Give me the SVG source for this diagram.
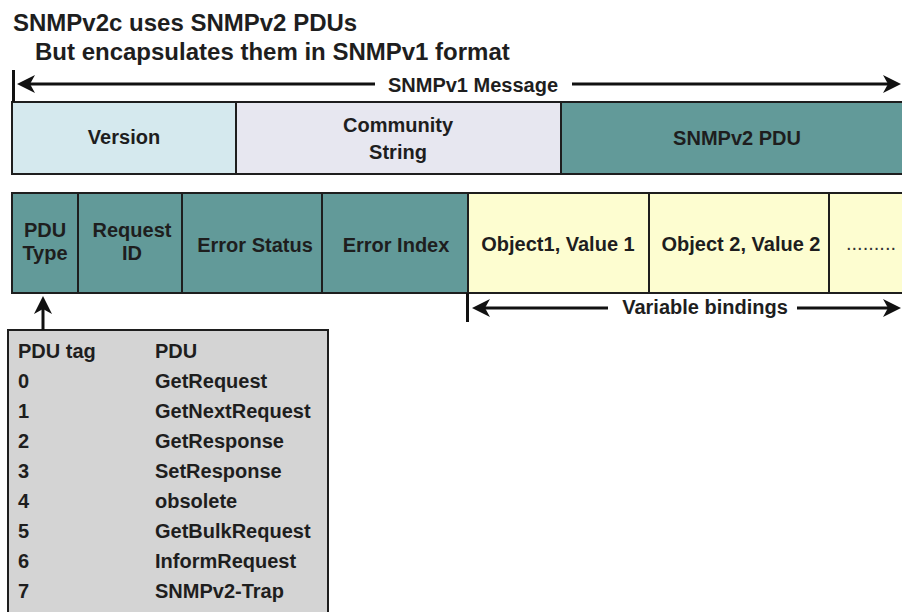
<svg xmlns="http://www.w3.org/2000/svg" width="902" height="612" viewBox="0 0 902 612">
  <style>
    text { font-family: "Liberation Sans", Arial, Helvetica, sans-serif; font-weight: bold; fill: #1e1e1e; }
    .t24 { font-size: 24px; }
    .t20 { font-size: 20px; }
    .c { text-anchor: middle; }
    .cell { stroke: #1e1e1e; stroke-width: 2; }
    .teal { fill: #629a99; }
    .yel { fill: #fdfdd0; }
    .conn { stroke: #111; stroke-width: 3; fill: none; }
    .bar { stroke: #111; stroke-width: 3; }
  </style>
  <defs>
    <marker id="ah" viewBox="-20 -10 22 20" refX="-12" refY="0" markerWidth="22" markerHeight="20" markerUnits="userSpaceOnUse" orient="auto-start-reverse">
      <path d="M0,0 L-18,-9 L-13,0 L-18,9 Z" fill="#111"/>
    </marker>
  </defs>
  <rect width="902" height="612" fill="#ffffff"/>

  <g id="title">
    <text class="t24" x="13" y="31">SNMPv2c uses SNMPv2 PDUs</text>
    <text class="t24" x="35" y="60">But encapsulates them in SNMPv1 format</text>
  </g>

  <g id="snmpv1-message">
    <rect class="cell" x="12" y="102" width="224" height="72" fill="#d5e9ee"/>
    <text class="t20 c" x="124" y="144">Version</text>
    <rect class="cell" x="236" y="102" width="325" height="72" fill="#e7e7f0"/>
    <text class="t20 c" x="398" y="132">Community</text>
    <text class="t20 c" x="398" y="159">String</text>
    <rect class="cell teal" x="561" y="102" width="345" height="72"/>
    <text class="t20 c" x="737" y="145">SNMPv2 PDU</text>
  </g>

  <g id="snmpv2-pdu">
    <rect class="cell teal" x="12" y="193" width="66" height="100"/>
    <text class="t20 c" x="45" y="237">PDU</text>
    <text class="t20 c" x="45" y="260">Type</text>
    <rect class="cell teal" x="78" y="193" width="104" height="100"/>
    <text class="t20 c" x="132" y="237">Request</text>
    <text class="t20 c" x="132" y="260">ID</text>
    <rect class="cell teal" x="182" y="193" width="140" height="100"/>
    <text class="t20 c" x="255" y="252">Error Status</text>
    <rect class="cell teal" x="322" y="193" width="146" height="100"/>
    <text class="t20 c" x="396" y="252">Error Index</text>
    <rect class="cell yel" x="468" y="193" width="181" height="100"/>
    <text class="t20 c" x="558" y="251">Object1, Value 1</text>
    <rect class="cell yel" x="649" y="193" width="180" height="100"/>
    <text class="t20 c" x="741" y="251">Object 2, Value 2</text>
    <rect class="cell yel" x="829" y="193" width="80" height="100"/>
    <text x="846" y="250" style="font-size:20px;font-weight:normal;fill:#333">.........</text>
  </g>

  <g id="pdu-table">
    <rect x="8" y="330" width="320" height="300" fill="#d4d4d4" stroke="#1e1e1e" stroke-width="2"/>
    <text class="t20" x="18" y="358">PDU tag</text>
    <text class="t20" x="155" y="358">PDU</text>
    <text class="t20" x="18" y="388">0</text>
    <text class="t20" x="155" y="388">GetRequest</text>
    <text class="t20" x="18" y="418">1</text>
    <text class="t20" x="155" y="418">GetNextRequest</text>
    <text class="t20" x="18" y="448">2</text>
    <text class="t20" x="155" y="448">GetResponse</text>
    <text class="t20" x="18" y="478">3</text>
    <text class="t20" x="155" y="478">SetResponse</text>
    <text class="t20" x="18" y="508">4</text>
    <text class="t20" x="155" y="508">obsolete</text>
    <text class="t20" x="18" y="538">5</text>
    <text class="t20" x="155" y="538">GetBulkRequest</text>
    <text class="t20" x="18" y="568">6</text>
    <text class="t20" x="155" y="568">InformRequest</text>
    <text class="t20" x="18" y="598">7</text>
    <text class="t20" x="155" y="598">SNMPv2-Trap</text>
  </g>

  <g id="connectors">
    <line class="bar" x1="13.5" y1="70" x2="13.5" y2="102"/>
    <line class="conn" x1="29" y1="84" x2="375" y2="84" marker-start="url(#ah)"/>
    <line class="conn" x1="572" y1="84" x2="889" y2="84" marker-end="url(#ah)"/>
    <text class="t20 c" x="473" y="92">SNMPv1 Message</text>

    <line class="bar" x1="467.5" y1="293" x2="467.5" y2="322"/>
    <line class="conn" x1="484" y1="308" x2="608" y2="308" marker-start="url(#ah)"/>
    <line class="conn" x1="797" y1="308" x2="889" y2="308" marker-end="url(#ah)"/>
    <text class="t20 c" x="705" y="314">Variable bindings</text>

    <line class="conn" x1="43" y1="330" x2="43" y2="308" marker-end="url(#ah)"/>
  </g>
</svg>
